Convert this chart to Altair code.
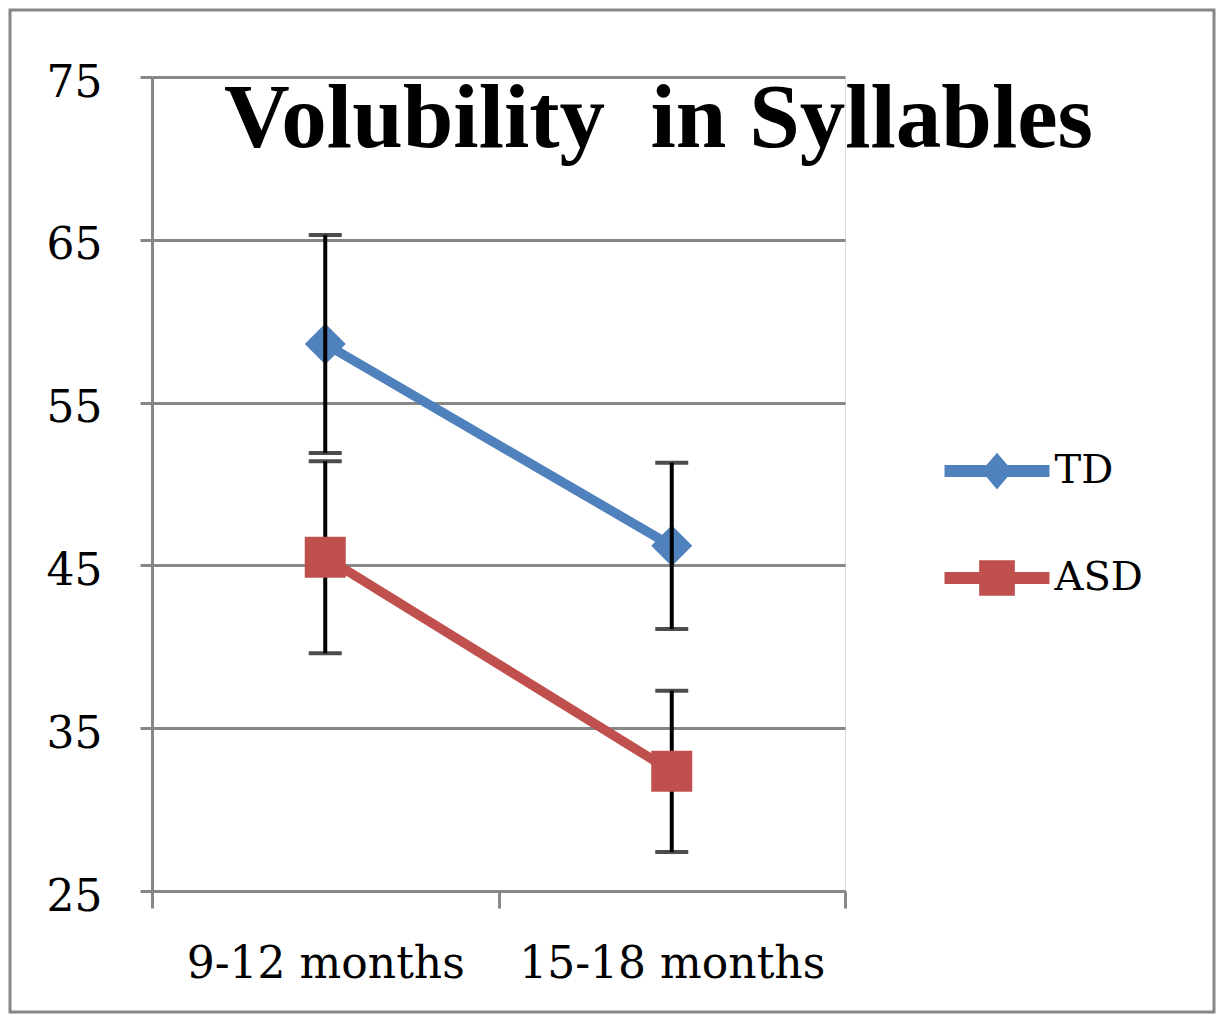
import altair as alt
import pandas as pd

periods = ["9-12 months", "15-18 months"]
groups = ["TD", "ASD"]
td_mean = [58.6, 46.2]
td_err = [6.7, 5.1]
asd_mean = [45.5, 32.35]
asd_err = [5.9, 4.95]
y_ticks = [25, 35, 45, 55, 65, 75]
colors = ["#4F81BD", "#C0504D"]
title_text = "Volubility\u00a0 in Syllables"

rows = []
for g, means, errs in [("TD", td_mean, td_err), ("ASD", asd_mean, asd_err)]:
    for p, m, e in zip(periods, means, errs):
        rows.append({"period": p, "group": g, "mean": m, "lo": m - e, "hi": m + e})
df = pd.DataFrame(rows)

GRAY = "#878787"
LABEL_FONT = "DejaVu Serif"

x_enc = alt.X(
    "period:N", sort=periods, title=None,
    scale=alt.Scale(type="band", paddingInner=0, paddingOuter=0),
    axis=alt.Axis(tickBand="extent", labelAngle=0, labelFont=LABEL_FONT, labelFontSize=44,
                  labelColor="black", labelPadding=34, labelLimit=0, tickSize=17, tickWidth=3,
                  tickColor=GRAY, domainColor=GRAY, domainWidth=3, grid=False),
)
y_scale = alt.Scale(domain=[25, 75], nice=False, zero=False)
y_axis = alt.Axis(values=y_ticks, grid=True, gridColor=GRAY, gridWidth=3, domainColor=GRAY,
                  domainWidth=3, tickColor=GRAY, tickWidth=3, tickSize=12, labelFont=LABEL_FONT,
                  labelFontSize=44, labelColor="black", labelPadding=38, labelOffset=6)
y_enc = alt.Y("mean:Q", scale=y_scale, axis=y_axis, title=None)

# legend symbols: line segment with the series marker on it
sym_td = ("M-1,-0.115L-0.2,-0.115L0,-0.35L0.2,-0.115L1,-0.115L1,0.115L0.2,0.115"
          "L0,0.35L-0.2,0.115L-1,0.115Z")
sym_asd = ("M-1,-0.115L-0.34,-0.115L-0.34,-0.34L0.34,-0.34L0.34,-0.115L1,-0.115L1,0.115"
           "L0.34,0.115L0.34,0.34L-0.34,0.34L-0.34,0.115L-1,0.115Z")

legend = alt.Legend(
    title=None, orient="none", legendX=792.5, legendY=341.5, symbolSize=11025,
    labelFont=LABEL_FONT, labelFontSize=40, labelColor="black", labelOffset=5,
    rowPadding=34, padding=0, symbolStrokeWidth=0, symbolOpacity=1,
)

base = alt.Chart(df)

border = base.mark_rect(fill=None, stroke=GRAY, strokeWidth=3).encode(
    x=alt.value(-142), x2=alt.value(1062), y=alt.value(-67), y2=alt.value(935)
).transform_filter("datum.period == '9-12 months' && datum.group == 'TD'")

def series_layers(g, color, shape):
    sub = base.transform_filter(alt.datum.group == g)
    line = sub.mark_line(strokeWidth=9.5, color=color).encode(x=x_enc, y=y_enc)
    pts = sub.mark_point(filled=True, size=1681, opacity=1, color=color, shape=shape).encode(
        x=x_enc, y=y_enc)
    return line, pts

td_line, td_pts = series_layers("TD", colors[0], "diamond")
asd_line, asd_pts = series_layers("ASD", colors[1], "square")

rules = base.mark_rule(color="black", strokeWidth=4).encode(x=x_enc, y="lo:Q", y2="hi:Q")
caps_lo = base.mark_tick(color="black", thickness=4, size=33).encode(x=x_enc, y="lo:Q")
caps_hi = base.mark_tick(color="black", thickness=4, size=33).encode(x=x_enc, y="hi:Q")

legend_layer = base.mark_point(filled=True, opacity=0).encode(
    x=x_enc, y=y_enc,
    color=alt.Color("group:N", scale=alt.Scale(domain=groups, range=colors), legend=legend),
    shape=alt.Shape("group:N", scale=alt.Scale(domain=groups, range=[sym_td, sym_asd]),
                    legend=legend),
)

chart = alt.layer(border, td_line, asd_line, td_pts, rules, caps_lo, caps_hi, asd_pts,
                  legend_layer).properties(
    width=693, height=814,
    autosize=alt.AutoSizeParams(type="none"),
    padding={"left": 144, "top": 69, "right": 372, "bottom": 123},
    title=alt.TitleParams(title_text, font="Liberation Serif", fontSize=91, fontWeight="bold",
                          color="black", anchor="middle", frame="group", dx=160,
                          offset=0, baseline="alphabetic", dy=229),
).configure_view(stroke=None, fill=None).configure(background="white")

chart.save("out.html", embed_options={"renderer": "svg", "actions": False})
